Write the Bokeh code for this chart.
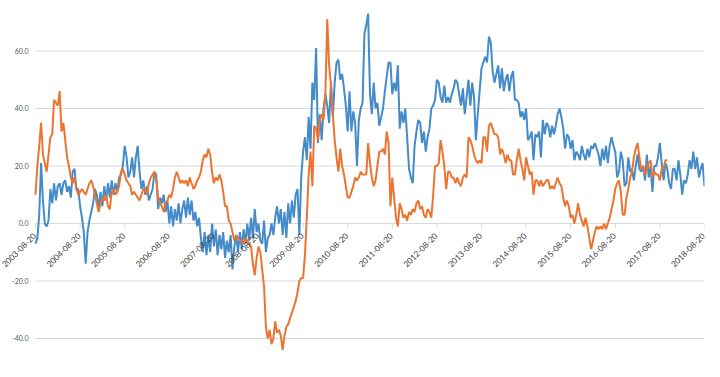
import numpy as np
import pandas as pd
from bokeh.plotting import figure
from bokeh.models import ColumnDataSource, Range1d
from bokeh.core.properties import value
from bokeh.embed import file_html
from bokeh.resources import INLINE

# ---- data -------------------------------------------------------------
start_date = "2003-08-20"
step_days = 365.25 / 24          # half-month sampling
tick_labels = ["2003-08-20", "2004-08-20", "2005-08-20", "2006-08-20",
               "2007-08-20", "2008-08-20", "2009-08-20", "2010-08-20",
               "2011-08-20", "2012-08-20", "2013-08-20", "2014-08-20",
               "2015-08-20", "2016-08-20", "2017-08-20", "2018-08-20"]
y_ticks = [-40, -20, 0, 20, 40, 60]

blue = [
    -7, -5, 3, 21, 8, 0, -1, 1, 12, 7, 14, 8, 13, 14, 10, 14, 15, 11, 13, 9, 18, 19, 12, 12,
    6, 2, -3, -14, -3, 1, 4, 7, 12, 10, 5, 11, 6, 13, 8, 14, 9, 15, 10, 14, 11, 16, 17, 20,
    27, 23, 16, 18, 23, 16, 23, 27, 18, 12, 15, 10, 13, 8, 10, 12, 18, 17, 5, 9, 7, 10, 4, 8,
    0, 6, -1, 5, 1, 7, 0, 5, 8, 2, 9, 3, 8, 1, 4, -1, 2, -5, -10, -3, -11, -4, -10, 0,
    -8, -2, -11, -4, -9, -3, -12, -6, -10, -4, -16, -8, -4, -10, -3, -9, -2, -7, 0, -6, 2, -5, 5, -3,
    0, -6, -7, 1, -10, -5, -4, 0, -4, 2, 6, 0, 5, -4, 4, -5, 7, 0, 8, 2, 10, 12, -4, 16,
    25, 30, 22, 37, 26, 49, 43, 61, 28, 38, 29, 40, 45, 41, 35, 49, 37, 49, 56, 57, 50, 52, 47, 41,
    32, 46, 32, 39, 35, 20, 36, 40, 42, 66, 69, 73, 45, 38, 49, 40, 42, 34, 37, 40, 46, 51, 56, 56,
    45, 49, 46, 55, 33, 39, 35, 40, 30, 19, 16, 14, 27, 32, 36, 35, 28, 32, 25, 30, 33, 40, 41, 43,
    50, 49, 44, 42, 48, 42, 44, 42, 45, 47, 50, 49, 45, 41, 47, 38, 44, 50, 41, 49, 44, 29, 38, 46,
    54, 56, 58, 56, 65, 63, 53, 49, 52, 55, 47, 54, 46, 50, 52, 46, 51, 53, 43, 43, 42, 37, 39, 36,
    40, 29, 30, 32, 22, 31, 30, 32, 23, 36, 31, 35, 34, 30, 34, 31, 34, 38, 40, 37, 33, 26, 31, 30,
    26, 29, 22, 25, 24, 22, 27, 24, 22, 26, 23, 27, 26, 28, 26, 24, 20, 26, 22, 27, 21, 27, 30, 27,
    25, 16, 18, 25, 22, 13, 14, 23, 18, 19, 15, 20, 24, 19, 18, 20, 15, 24, 16, 20, 11, 20, 20, 23,
    28, 21, 15, 21, 19, 14, 12, 19, 19, 15, 22, 17, 10, 15, 14, 17, 22, 19, 25, 19, 23, 16, 19, 21, 13,
]

orange = [
    10, 20, 27, 35, 24, 21, 18, 24, 30, 31, 43, 42, 41, 46, 32, 35, 29, 23, 20, 16, 14, 16, 12, 10,
    11, 12, 11, 10, 12, 14, 15, 13, 10, 7, 4, 7, 9, 8, 10, 6, 5, 11, 12, 10, 11, 13, 18, 19,
    17, 15, 14, 13, 10, 11, 10, 9, 8, 10, 12, 12, 10, 14, 16, 17, 18, 15, 9, 7, 6, 4, 7, 8,
    10, 9, 12, 16, 18, 16, 14, 15, 14, 15, 13, 16, 14, 12, 13, 15, 16, 18, 22, 24, 23, 26, 24, 18,
    14, 16, 15, 17, 15, 11, 6, 6, 1, 0, -3, -6, -4, -5, -6, -6, -7, -5, -6, -7, -8, -14, -18, -12,
    -8, -10, -16, -22, -36, -40, -37, -42, -40, -34, -38, -37, -39, -44, -39, -36, -35, -33, -31, -29, -27, -24, -20, -19,
    -19, -11, 2, 17, 25, 13, 34, 33, 29, 36, 38, 36, 45, 71, 55, 48, 38, 29, 23, 18, 26, 20, 17, 13,
    9, 9, 11, 13, 16, 15, 16, 18, 17, 17, 17, 28, 21, 16, 13, 15, 20, 25, 25, 26, 24, 32, 28, 6,
    16, 9, 2, -1, 7, 5, 2, 3, 1, 4, 3, 5, 4, 7, 8, 5, 6, 3, 2, 5, 4, 2, 10, 20,
    20, 21, 29, 25, 20, 12, 18, 18, 16, 16, 14, 16, 14, 13, 16, 17, 16, 30, 29, 27, 24, 22, 21, 22,
    21, 30, 30, 25, 34, 35, 33, 31, 31, 30, 24, 26, 24, 21, 24, 22, 22, 17, 17, 22, 26, 22, 19, 15,
    23, 20, 17, 18, 10, 15, 15, 13, 15, 13, 14, 15, 15, 12, 13, 12, 14, 16, 14, 13, 9, 6, 8, 6,
    2, 3, 0, 3, 7, 3, 1, -1, 2, -1, -5, -9, -6, -3, -1, -2, -1, -2, 0, -2, 0, 2, 5, 8,
    12, 14, 15, 11, 3, 3, 9, 12, 16, 18, 23, 26, 28, 23, 19, 20, 17, 19, 21, 22, 16, 18, 17, 17, 15, 19, 19, 22, 22,
]

# ---- sources ----------------------------------------------------------
t0 = pd.Timestamp(start_date)
blue_x = t0 + pd.to_timedelta(np.arange(len(blue)) * step_days, unit="D")
orange_x = t0 + pd.to_timedelta(np.arange(len(orange)) * step_days, unit="D")
tick_x = pd.to_datetime(tick_labels)
t_first, t_last = tick_x[0], tick_x[-1]

src_blue = ColumnDataSource(dict(x=blue_x, y=blue))
src_orange = ColumnDataSource(dict(x=orange_x, y=orange))
src_ticks = ColumnDataSource(dict(x=tick_x, y=[0] * len(tick_labels),
                                  y1=[-1.74] * len(tick_labels), text=tick_labels))
src_grid = ColumnDataSource(dict(x0=[t_first] * len(y_ticks), x1=[t_last] * len(y_ticks),
                                 y=y_ticks, text=[f"{v:.1f}" for v in y_ticks]))

# ---- figure -----------------------------------------------------------
# frame spans the whole canvas width up to the right edge; the plot area
# (gridlines) starts 35px in, leaving room for the value labels
FRAME_W = 704
PLOT_LEFT = 35
span = t_last - t_first
x_start = t_first - span * (PLOT_LEFT / (FRAME_W - PLOT_LEFT))

p = figure(width=712, height=376, output_backend="svg", toolbar_location=None,
           x_axis_location=None, y_axis_location=None,
           x_range=Range1d(x_start, t_last),
           y_range=Range1d(-53.22, 77.565),
           min_border_left=0, min_border_right=8, min_border_top=0, min_border_bottom=0)
p.outline_line_color = None
p.background_fill_color = "white"
p.border_fill_color = "white"
p.grid.visible = False

# horizontal gridlines across the plot area
p.segment(x0="x0", y0="y", x1="x1", y1="y", source=src_grid,
          line_color="#d9d9d9", line_width=1)
# value labels
p.text(x="x0", y="y", text="text", source=src_grid,
       text_align="right", text_baseline="middle", x_offset=-7,
       text_font=value("Lato"), text_font_size=value("7px"), text_color="#595959")

# category-axis tick marks on the zero line
p.segment(x0="x", y0="y", x1="x", y1="y1", source=src_ticks,
          line_color="#d9d9d9", line_width=1)

p.line("x", "y", source=src_blue, line_color="#448BCA", line_width=2)
p.line("x", "y", source=src_orange, line_color="#EC7430", line_width=2)

# rotated date labels hanging below the zero line
p.text(x="x", y="y", text="text", source=src_ticks,
       angle=np.pi / 4, text_align="right", text_baseline="middle",
       x_offset=-1, y_offset=11,
       text_font=value("Lato"), text_font_size=value("8.2px"), text_color="#404040")

open("out.html", "w").write(file_html(p, INLINE))
